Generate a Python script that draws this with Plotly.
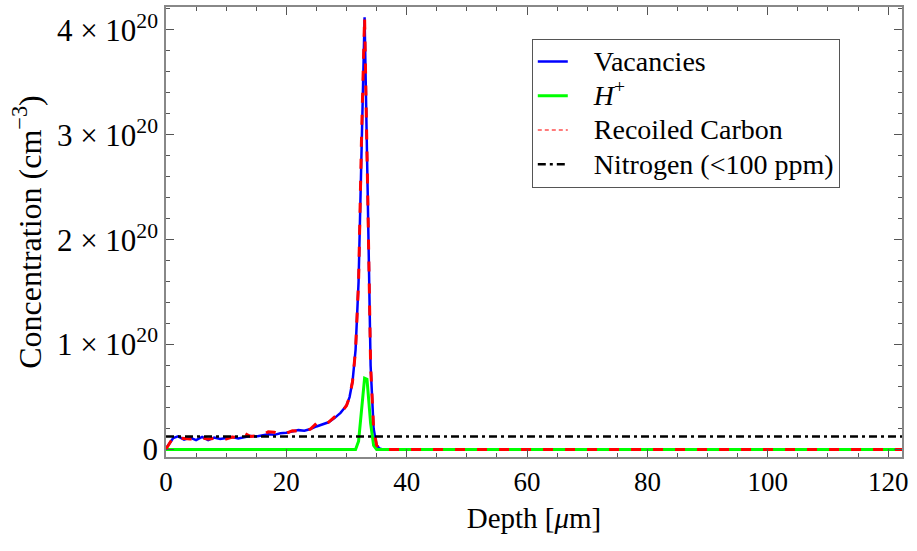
import plotly.graph_objects as go

# ---- data (units: depth in micrometres, concentration in cm^-3) ----
depth_vac = [0, 1.2, 2, 3, 4, 5, 6, 7, 8, 9, 10, 11, 12, 13, 14, 15, 16, 17, 18, 19, 20,
             21, 22, 23, 24, 25, 26, 27, 28, 29, 30, 30.5, 31, 31.5, 32, 32.5, 33, 33.5,
             34, 34.5, 35, 35.5, 36, 40, 50, 60, 70, 80, 90, 100, 110, 122.3]
vacancies = [0.1e19, 1.1e19, 1.25e19, 0.95e19, 1.15e19, 0.9e19, 1.2e19, 0.9e19, 1.15e19,
             1.0e19, 1.1e19, 1.2e19, 1.05e19, 1.2e19, 1.3e19, 1.25e19, 1.35e19, 1.45e19,
             1.4e19, 1.55e19, 1.6e19, 1.7e19, 1.85e19, 1.8e19, 1.95e19, 2.2e19, 2.4e19,
             2.6e19, 3.0e19, 3.5e19, 4.2e19, 5.0e19, 6.5e19, 9.5e19, 16e19, 30e19,
             41.2e19, 25e19, 8e19, 2e19, 0.4e19, 0.1e19, 0.02e19, 0, 0, 0, 0, 0, 0, 0, 0, 0]
recoiled_carbon = [0.05e19, 1.15e19, 1.1e19, 1.05e19, 1.0e19, 1.05e19, 1.1e19, 1.0e19,
                   1.05e19, 1.1e19, 1.0e19, 1.2e19, 1.15e19, 1.55e19, 1.25e19, 1.3e19,
                   1.35e19, 1.7e19, 1.65e19, 1.45e19, 1.55e19, 1.8e19, 1.75e19, 1.8e19,
                   1.95e19, 2.5e19, 2.35e19, 2.6e19, 3.1e19, 3.4e19, 4.2e19, 5.0e19,
                   6.5e19, 9.5e19, 16e19, 30e19, 41.2e19, 25e19, 8e19, 2e19, 0.4e19,
                   0.1e19, 0.02e19, 0, 0, 0, 0, 0, 0, 0, 0, 0]

depth_h = [0, 10, 20, 30, 31.5, 32, 32.5, 33, 33.4, 34, 34.5, 35, 40, 60, 80, 100, 122.3]
h_plus = [0, 0, 0, 0, 0, 0.8e19, 4.0e19, 6.8e19, 6.7e19, 2.5e19, 0.4e19, 0, 0, 0, 0, 0, 0]

depth_n = [0, 122.3]
nitrogen = [1.25e19, 1.25e19]

x_ticks = [0, 20, 40, 60, 80, 100, 120]
y_tickvals = [0, 1e20, 2e20, 3e20, 4e20]
y_ticktext = ["0", "1 × 10<sup>20</sup>", "2 × 10<sup>20</sup>",
              "3 × 10<sup>20</sup>", "4 × 10<sup>20</sup>"]

FONT = "Liberation Serif"


def leg(label):
    # larger text than the legend row height so rows stay compact as in the reference
    return '<span style="font-size:28px">\u00a0\u00a0\u00a0' + label + '</span>'


fig = go.Figure()
fig.add_trace(go.Scatter(x=depth_vac, y=vacancies, mode="lines", name=leg("Vacancies"),
                         line=dict(color="rgb(0,0,255)", width=2.5)))
fig.add_trace(go.Scatter(x=depth_h, y=h_plus, mode="lines", name=leg("<i>H</i><sup>+</sup>"),
                         line=dict(color="rgb(0,255,0)", width=3)))
fig.add_trace(go.Scatter(x=depth_vac, y=recoiled_carbon, mode="lines", name="Recoiled Carbon",
                         showlegend=False,
                         line=dict(color="rgb(255,0,0)", width=3, dash="10px,12px")))
# legend sample for recoiled carbon (thin pink dashes, as in the reference legend)
fig.add_trace(go.Scatter(x=[None], y=[None], mode="lines", name=leg("Recoiled Carbon"),
                         line=dict(color="rgb(255,80,80)", width=1.5, dash="4px,3px")))
fig.add_trace(go.Scatter(x=depth_n, y=nitrogen, mode="lines", name=leg("Nitrogen (&lt;100 ppm)"),
                         line=dict(color="black", width=2.5, dash="8px,4px,3px,4px")))

axis_common = dict(showline=True, linecolor="#888888", linewidth=1.5, mirror="ticks",
                   ticks="inside", tickcolor="#555555", tickwidth=1, zeroline=False,
                   showgrid=False)

fig.update_xaxes(range=[0, 122.3], tickvals=x_ticks, ticklen=8,
                 tickfont=dict(family=FONT, size=27, color="black"),
                 minor=dict(ticks="inside", dtick=5, tick0=0, ticklen=4, tickcolor="#555555"),
                 title=dict(text="Depth [<i>μ</i>m]", font=dict(family=FONT, size=29, color="black"),
                            standoff=12),
                 **axis_common)
fig.update_yaxes(range=[-0.071e20, 4.217e20], tickvals=y_tickvals, ticktext=y_ticktext, ticklen=8,
                 tickfont=dict(family=FONT, size=31, color="black"),
                 minor=dict(ticks="inside", dtick=2e19, tick0=0, ticklen=4, tickcolor="#555555"),
                 title=dict(text="Concentration (cm<sup>−3</sup>)",
                            font=dict(family=FONT, size=32, color="black"), standoff=6),
                 **axis_common)

fig.update_layout(
    width=917, height=551,
    margin=dict(l=166, r=15, t=5, b=94),
    paper_bgcolor="white", plot_bgcolor="white",
    font=dict(family=FONT, color="black"),
    legend=dict(x=0.497, y=0.93, xanchor="left", yanchor="top",
                bgcolor="white", bordercolor="#555555", borderwidth=1,
                font=dict(family=FONT, size=24, color="black"),
                itemwidth=30, tracegroupgap=0),
)

fig.write_html("out.html")
